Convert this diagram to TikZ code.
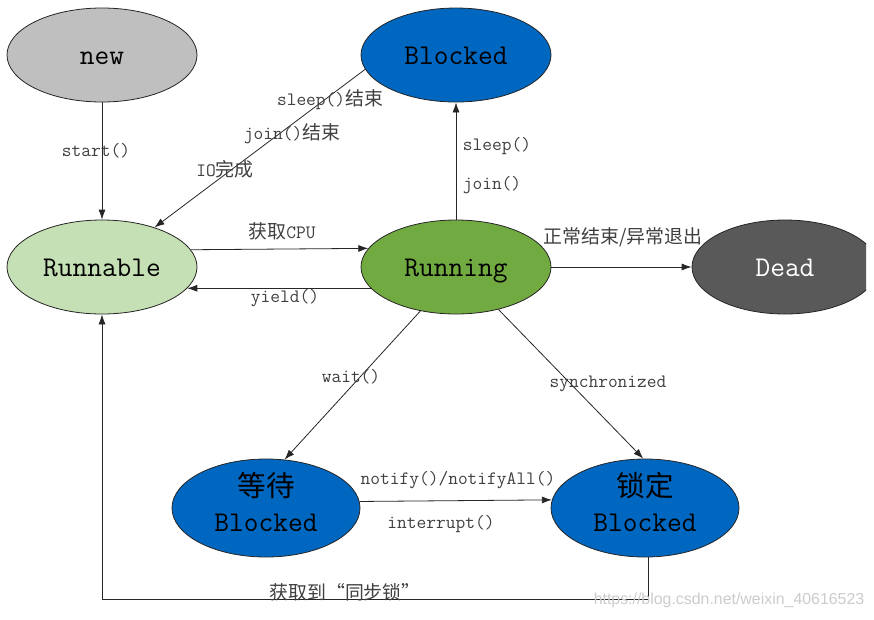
\documentclass[tikz,border=0pt]{standalone}
\usepackage{fontspec}
\newfontfamily\cjk{Noto Sans CJK SC}
\newfontfamily\wmfont{Liberation Sans}
\usetikzlibrary{shapes.geometric,arrows.meta}
\definecolor{cnew}{RGB}{191,191,191}
\definecolor{cblue}{RGB}{0,103,192}
\definecolor{crunnable}{RGB}{197,224,180}
\definecolor{crunning}{RGB}{114,170,66}
\definecolor{cdead}{RGB}{89,89,89}
\definecolor{clbl}{RGB}{64,64,64}
\tikzset{
  st/.style={ellipse, draw=black!85, line width=0.8pt, minimum width=190pt,
    minimum height=94pt, inner sep=0pt, align=center, text height=18pt, text depth=0pt,
    font=\ttfamily\fontsize{28.6}{36}\selectfont},
  sttext/.style={inner sep=0pt, align=center, font=\ttfamily\fontsize{28.6}{35}\selectfont},
  lbl/.style={text=clbl, inner sep=0pt, font=\ttfamily\fontsize{18.9}{22}\selectfont},
  arr/.style={draw=black!85, line width=0.8pt, -{Latex[length=10pt,width=7pt]}},
}
\begin{document}
\begin{tikzpicture}[x=1pt,y=-1pt]
\useasboundingbox (0,0) rectangle (874,619);
\fill[white] (0,0) rectangle (874,619);
% states
\node[st, fill=cnew] (new) at (102,55) {new};
\node[st, fill=cblue] (blocked) at (456,55) {Blocked};
\node[st, fill=crunnable] (runnable) at (102,267) {Runnable};
\node[st, fill=crunning] (running) at (456,267) {Running};
\begin{scope}
  \clip (0,0) rectangle (866,619);
  \node[st, fill=cdead, text=white, minimum width=186pt] (dead) at (785,267) {Dead};
\end{scope}
\node[st, fill=cblue, minimum width=188pt, minimum height=98pt] (wait) at (266,508) {};
\node[sttext] (waittext) at (266,502) {{\cjk 等待}\\Blocked};
\node[st, fill=cblue, minimum width=188pt, minimum height=98pt] (lock) at (645,508) {};
\node[sttext] (locktext) at (645,502) {{\cjk 锁定}\\Blocked};
% connectors
\draw[arr] (new) -- (runnable);
\draw[arr] (blocked.189) -- (runnable.37);
\draw[arr] (runnable.11.6) -- (running.168.4);
\draw[arr] (running.194) -- (runnable.-14);
\draw[arr] (running) -- (blocked);
\draw[arr] (running) -- (dead);
\draw[arr] (running.231) -- (wait.69);
\draw[arr] (running.-45.6) -- (lock.92);
\draw[arr] (wait.4.9) -- (lock.175.1);
\draw[arr] ([xshift=3pt]lock.south) -- ++(0,42) -| (runnable.south);
% labels
\node[lbl] (l1) at (96,151) {start()};
\node[lbl] (l2) at (330,100) {sleep(){\cjk 结束}};
\node[lbl] (l3) at (292,134) {join(){\cjk 结束}};
\node[lbl] (l4) at (225,169) {IO{\cjk 完成}};
\node[lbl] (l5) at (282,231) {{\cjk 获取}CPU};
\node[lbl] (l6) at (285,298) {yield()};
\node[lbl] (l7) at (497,146) {sleep()};
\node[lbl] (l8) at (492,185) {join()};
\node[lbl] (l9) at (623,237) {{\cjk 正常结束/异常退出}};
\node[lbl] (l10) at (351,377) {wait()};
\node[lbl] (l11) at (608,384) {synchronized};
\node[lbl] (l12) at (458,480) {notify()/notifyAll()};
\node[lbl] (l13) at (441,524) {interrupt()};
\node[lbl] (l14) at (345,592) {{\cjk 获取到“同步锁”}};
\node[text=black!20, inner sep=0pt, font=\wmfont\fontsize{15.9}{18}\selectfont] (wm) at (729,600) {https://blog.csdn.net/weixin\_40616523};
\end{tikzpicture}
\end{document}
